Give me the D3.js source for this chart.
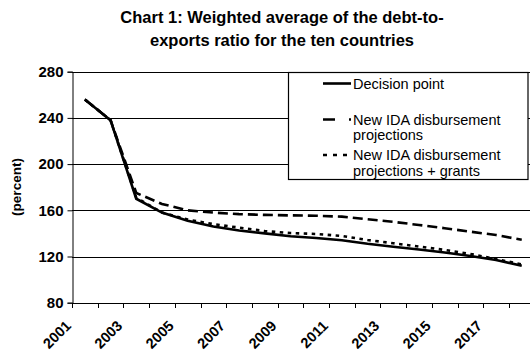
<!DOCTYPE html>
<html>
<head>
<meta charset="utf-8">
<script src="https://cdn.jsdelivr.net/npm/d3@7"></script>
<style>
  html, body { margin: 0; padding: 0; background: #fff; }
  svg { display: block; font-family: "Liberation Sans", Arial, sans-serif; }
</style>
</head>
<body>
<svg id="chart" width="530" height="356"></svg>
<script>
// Years on the category axis
const years = [2001, 2002, 2003, 2004, 2005, 2006, 2007, 2008, 2009, 2010,
               2011, 2012, 2013, 2014, 2015, 2016, 2017, 2018];
// Labelled years (every other category)
const yearLabels = [2001, 2003, 2005, 2007, 2009, 2011, 2013, 2015, 2017];
// Y axis ticks (percent)
const yTicks = [80, 120, 160, 200, 240, 280];

// Debt-to-exports ratio, percent
const decisionPoint = [256, 238, 170, 158, 151, 146, 142.5, 140, 137.5, 136,
                       134, 131, 128.5, 126, 123.5, 120.5, 117, 112];
const idaProjections = [256, 238, 175, 165.5, 160, 158, 156.7, 156, 155.6, 155.3,
                        154.5, 152.2, 150, 147.3, 144.5, 141.5, 138.6, 134.5];
const idaPlusGrants = [256, 238, 171, 158, 152, 148, 145, 142, 140.3, 139.5,
                       137.8, 134.3, 131.5, 128.6, 125.7, 122.2, 117.8, 113.2];

const seriesNames = ["Decision point", "New IDA disbursement projections",
                     "New IDA disbursement projections + grants"];

const svg = d3.select("#chart");

const plotLeft = 72, plotTop = 71.7, plotBottom = 302.7, plotRight = 534.6;

const x = d3.scaleBand().domain(years).range([plotLeft, plotRight]).padding(0);
const y = d3.scaleLinear().domain([80, 280]).range([plotBottom, plotTop]);

// Title
const title = svg.append("text")
  .attr("x", 282).attr("text-anchor", "middle")
  .style("font-weight", "bold").style("font-size", "16.5px");
title.append("tspan").attr("x", 282).attr("y", 23).text("Chart 1: Weighted average of the debt-to-");
title.append("tspan").attr("x", 282).attr("y", 46).text("exports ratio for the ten countries");

// Horizontal gridlines
svg.append("g").selectAll("line")
  .data(yTicks.filter(v => v > 80))
  .join("line")
  .attr("x1", plotLeft).attr("x2", plotRight)
  .attr("y1", d => Math.round(y(d)) + 0.5).attr("y2", d => Math.round(y(d)) + 0.5)
  .attr("stroke", "#000").attr("stroke-width", 1);

// Y axis
const yAxis = svg.append("g")
  .attr("transform", `translate(${plotLeft + 0.5},0)`)
  .call(d3.axisLeft(y).tickValues(yTicks).tickSize(5).tickPadding(4));
yAxis.select(".domain").attr("stroke", "#000");
yAxis.selectAll("text")
  .style("font-size", "15px").style("font-weight", "bold")
  .style("font-family", "'Liberation Sans', Arial, sans-serif")
  .attr("fill", "#000");

// Y axis title
svg.append("text")
  .attr("transform", "translate(21,187) rotate(-90)")
  .attr("text-anchor", "middle")
  .style("font-size", "13.5px").style("font-weight", "bold")
  .text("(percent)");

// X axis line and ticks at category boundaries
const xAxisG = svg.append("g");
xAxisG.append("line")
  .attr("x1", plotLeft).attr("x2", plotRight)
  .attr("y1", Math.round(plotBottom) + 0.5).attr("y2", Math.round(plotBottom) + 0.5)
  .attr("stroke", "#000");
xAxisG.selectAll("line.tick")
  .data(years)
  .join("line").attr("class", "tick")
  .attr("x1", d => Math.round(x(d)) + 0.5).attr("x2", d => Math.round(x(d)) + 0.5)
  .attr("y1", Math.round(plotBottom)).attr("y2", Math.round(plotBottom) + 5)
  .attr("stroke", "#000");

// Rotated year labels
xAxisG.selectAll("text")
  .data(yearLabels)
  .join("text")
  .attr("text-anchor", "end")
  .attr("transform", d => `translate(${x(d) + x.bandwidth() / 2 - 13},${plotBottom + 24}) rotate(-45)`)
  .style("font-size", "14.5px").style("font-weight", "bold")
  .text(d => d);

// Series lines
const line = d3.line()
  .x((d, i) => x(years[i]) + x.bandwidth() / 2)
  .y(d => y(d));

const styles = [
  { data: decisionPoint, dash: null, width: 2.6 },
  { data: idaProjections, dash: "10,5", width: 2.6 },
  { data: idaPlusGrants, dash: "3.5,4.5", width: 2.6 }
];

svg.append("g").selectAll("path")
  .data(styles)
  .join("path")
  .attr("d", d => line(d.data))
  .attr("fill", "none")
  .attr("stroke", "#000")
  .attr("stroke-width", d => d.width)
  .attr("stroke-dasharray", d => d.dash);

// Legend
const lg = svg.append("g");
lg.append("rect")
  .attr("x", 288.5).attr("y", 72.5).attr("width", 239.5).attr("height", 107)
  .attr("fill", "#fff").attr("stroke", "#000").attr("stroke-width", 1.2);

const legendRows = [
  { name: seriesNames[0], lines: ["Decision point"], y: 83.5, dash: null },
  { name: seriesNames[1], lines: ["New IDA disbursement", "projections"], y: 119.5, dash: "12,14" },
  { name: seriesNames[2], lines: ["New IDA disbursement", "projections + grants"], y: 155, dash: "4,6" }
];

legendRows.forEach(r => {
  lg.append("line")
    .attr("x1", 323).attr("x2", 351)
    .attr("y1", r.y).attr("y2", r.y)
    .attr("stroke", "#000").attr("stroke-width", 2.6)
    .attr("stroke-dasharray", r.dash);
  const t = lg.append("text").style("font-size", "14.5px");
  r.lines.forEach((s, i) => {
    t.append("tspan").attr("x", 353).attr("y", r.y + 5 + i * 15.5).text(s);
  });
});
</script>
</body>
</html>
